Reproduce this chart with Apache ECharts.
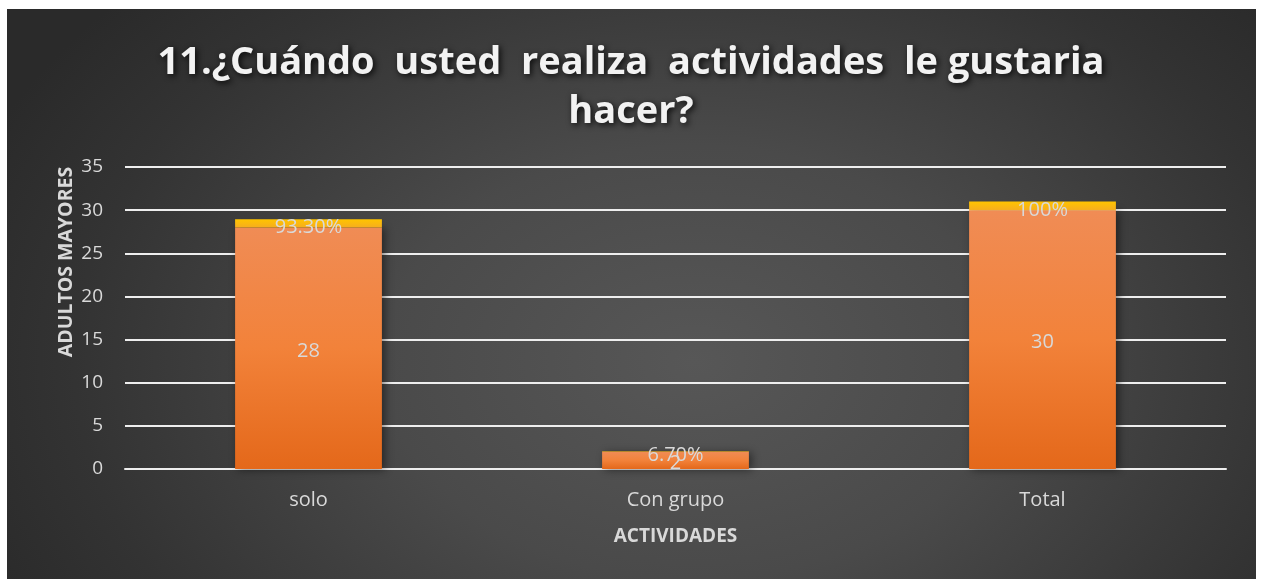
<!DOCTYPE html>
<html><head><meta charset="utf-8">
<script src="https://cdn.jsdelivr.net/npm/echarts@6/dist/echarts.min.js"></script>
<style>
html,body{margin:0;padding:0;background:#fff;width:1262px;height:579px;overflow:hidden;}
#bg{position:absolute;left:7px;top:9px;width:1249px;height:570px;
background:radial-gradient(ellipse 62% 95% at 55% 62%, #575757 0%, #4a4a4a 40%, #333 80%, #2a2a2a 100%);}
#chart{position:absolute;left:0;top:0;width:1262px;height:579px;}
</style></head>
<body><div id="bg"></div><div id="chart"></div>
<script>
const categories = ['solo', 'Con grupo', 'Total'];
const counts = [28, 2, 30];
const percents = [0.933, 0.067, 1];
const percentLabels = ['93.30%', '6.70%', '100%'];
const yTicks = [0, 5, 10, 15, 20, 25, 30, 35];

const chart = echarts.init(document.getElementById('chart'), null, {renderer: 'canvas'});
const font = '"Open Sans", "DejaVu Sans", sans-serif';
const txt = '#d9d9d9';
chart.setOption({
  backgroundColor: 'transparent',
  animation: false,
  title: {
    text: '11.¿Cuándo  usted  realiza  actividades  le gustaria\nhacer?',
    left: 'center', top: 34,
    textStyle: {
      fontFamily: font, fontWeight: 'bold', fontSize: 38, color: '#f2f2f2',
      lineHeight: 49, textShadowColor: 'rgba(0,0,0,0.85)', textShadowBlur: 6,
      textShadowOffsetX: 2, textShadowOffsetY: 2
    }
  },
  grid: {left: 125, right: 36, top: 167, bottom: 110, containLabel: false},
  xAxis: {
    type: 'category', data: categories,
    axisLine: {show: true, lineStyle: {color: '#eeeeee', width: 2}},
    axisTick: {show: false},
    axisLabel: {color: txt, fontFamily: font, fontSize: 20, margin: 21},
    name: 'ACTIVIDADES', nameLocation: 'middle', nameGap: 58,
    nameTextStyle: {color: txt, fontFamily: font, fontWeight: 'bold', fontSize: 19}
  },
  yAxis: {
    type: 'value', min: yTicks[0], max: yTicks[yTicks.length - 1], interval: 5,
    axisLine: {show: false}, axisTick: {show: false},
    axisLabel: {color: txt, fontFamily: font, fontSize: 19, margin: 22},
    splitLine: {lineStyle: {color: '#eeeeee', width: 2}}
  },
  graphic: [{
    type: 'text', x: 66, y: 262, rotation: Math.PI / 2,
    style: {text: 'ADULTOS MAYORES', fill: txt, font: 'bold 19.5px ' + font,
      align: 'center', verticalAlign: 'middle'}
  }],
  series: [{
    type: 'bar', stack: 'a', data: counts, barWidth: '40%',
    itemStyle: {
      color: {type: 'linear', x: 0, y: 0, x2: 0, y2: 1, colorStops: [
        {offset: 0, color: '#f08c55'}, {offset: 0.5, color: '#f2823a'}, {offset: 1, color: '#e4681a'}]},
      shadowColor: 'rgba(0,0,0,0.45)', shadowBlur: 8, shadowOffsetX: 3, shadowOffsetY: 1
    },
    label: {show: true, position: 'inside', offset: [0, 3], color: txt, fontFamily: font, fontSize: 20}
  }, {
    type: 'bar', stack: 'a', data: percents, barWidth: '40%',
    itemStyle: {
      color: {type: 'linear', x: 0, y: 0, x2: 0, y2: 1, colorStops: [
        {offset: 0, color: '#ffc400'}, {offset: 1, color: '#f6ae1e'}]}
    },
    label: {show: true, position: 'inside', offset: [0, 4], color: txt, fontFamily: font, fontSize: 20,
      formatter: p => percentLabels[p.dataIndex]}
  }]
});
</script></body></html>
